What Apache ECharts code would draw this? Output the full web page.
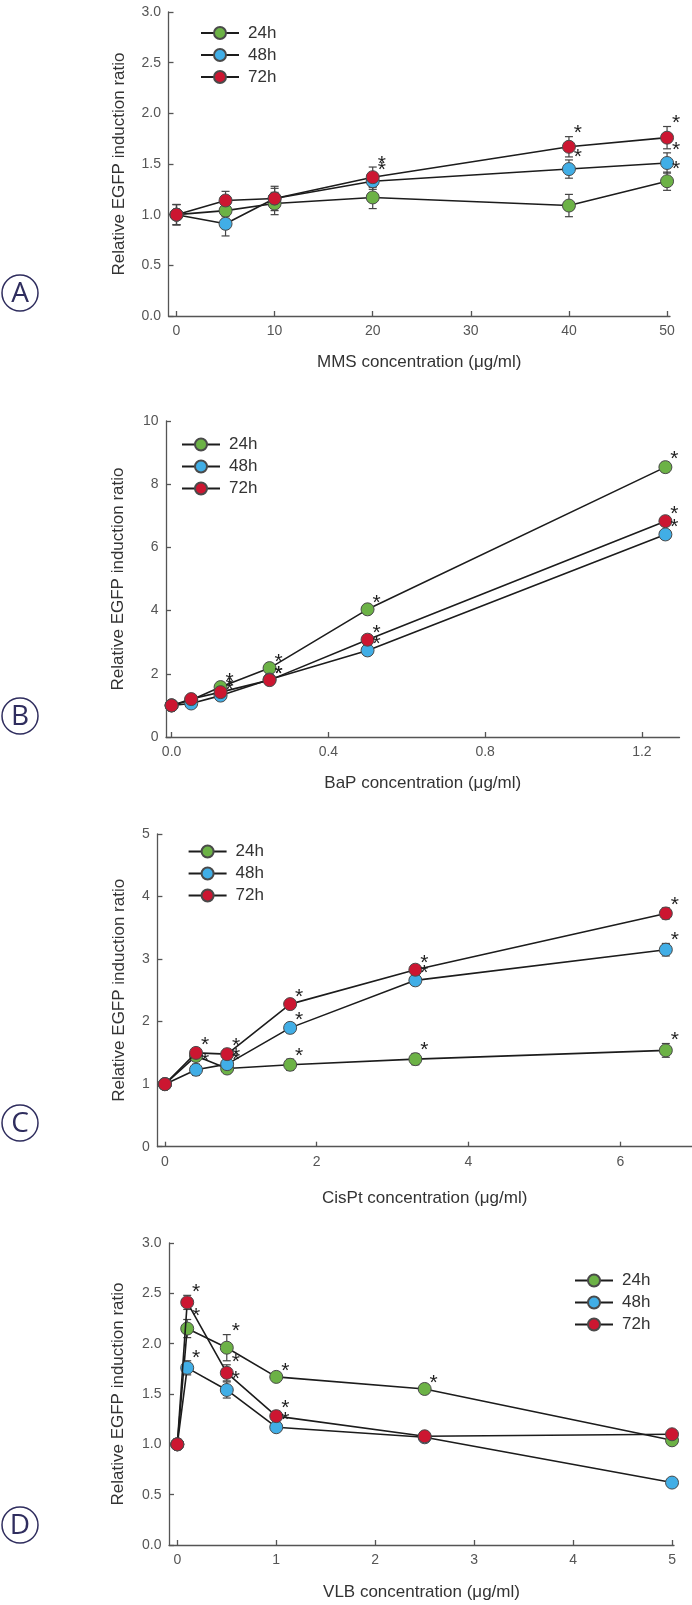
<!DOCTYPE html>
<html>
<head>
<meta charset="utf-8">
<script src="https://cdn.jsdelivr.net/npm/echarts@6/dist/echarts.min.js"></script>
<style>
  html, body { margin: 0; padding: 0; background: #fff; }
  #chart { width: 692px; height: 1605px; }
</style>
</head>
<body>
<div id="chart"></div>
<script>
// series names / colours
var timeNames = ['24h', '48h', '72h'];
var timeColors = ['#6cb246', '#41aee6', '#cc1631'];

// A - MMS
var xA = [0, 5, 10, 20, 40, 50];
var a24 = [1.00, 1.04, 1.11, 1.17, 1.09, 1.33];
var a48 = [1.00, 0.91, 1.16, 1.33, 1.45, 1.51];
var a72 = [1.00, 1.14, 1.16, 1.37, 1.67, 1.76];
var a24Err = [0.10, 0.06, 0.11, 0.11, 0.11, 0.09];
var a48Err = [0.10, 0.12, 0.10, 0.08, 0.09, 0.10];
var a72Err = [0.10, 0.09, 0.12, 0.10, 0.10, 0.11];
var a24Star = [0, 0, 0, 0, 0, 1];
var a48Star = [0, 0, 0, 1, 1, 1];
var a72Star = [0, 0, 0, 1, 1, 1];
var ticksA = [0, 10, 20, 30, 40, 50];

// B - BaP
var xB = [0, 0.05, 0.125, 0.25, 0.5, 1.26];
var b24 = [1.00, 1.17, 1.58, 2.18, 4.04, 8.54];
var b48 = [1.00, 1.06, 1.31, 1.82, 2.74, 6.41];
var b72 = [1.00, 1.20, 1.42, 1.80, 3.08, 6.83];
var b24Err = [0.08, 0.08, 0.10, 0.10, 0.10, 0.15];
var b48Err = [0.08, 0.08, 0.08, 0.08, 0.10, 0.12];
var b72Err = [0.08, 0.08, 0.08, 0.08, 0.10, 0.12];
var b24Star = [0, 0, 1, 1, 1, 1];
var b48Star = [0, 0, 1, 1, 1, 1];
var b72Star = [0, 0, 1, 1, 1, 1];
var ticksB = [0, 0.4, 0.8, 1.2];

// C - CisPt
var xC = [0, 0.41, 0.82, 1.65, 3.3, 6.6];
var c24 = [1.00, 1.45, 1.25, 1.31, 1.40, 1.54];
var c48 = [1.00, 1.23, 1.32, 1.90, 2.66, 3.15];
var c72 = [1.00, 1.50, 1.48, 2.28, 2.83, 3.73];
var c24Err = [0.08, 0.08, 0.08, 0.09, 0.09, 0.11];
var c48Err = [0.08, 0.09, 0.08, 0.08, 0.06, 0.10];
var c72Err = [0.08, 0.07, 0.08, 0.07, 0.06, 0.09];
var c24Star = [0, 0, 1, 1, 1, 1];
var c48Star = [0, 1, 1, 1, 1, 1];
var c72Star = [0, 1, 1, 1, 1, 1];
var ticksC = [0, 2, 4, 6];

// D - VLB
var xD = [0, 0.1, 0.5, 1, 2.5, 5];
var d24 = [1.00, 2.15, 1.96, 1.67, 1.55, 1.04];
var d48 = [1.00, 1.76, 1.54, 1.17, 1.07, 0.62];
var d72 = [1.00, 2.41, 1.71, 1.28, 1.08, 1.10];
var d24Err = [0.05, 0.09, 0.13, 0.03, 0.03, 0.04];
var d48Err = [0.05, 0.07, 0.08, 0.04, 0.03, 0.04];
var d72Err = [0.05, 0.07, 0.08, 0.05, 0.04, 0.04];
var d24Star = [0, 1, 1, 1, 1, 0];
var d48Star = [0, 1, 1, 1, 0, 0];
var d72Star = [0, 1, 1, 1, 0, 0];
var ticksD = [0, 1, 2, 3, 4, 5];

var xTitles = ['MMS concentration (\u03bcg/ml)', 'BaP concentration (\u03bcg/ml)',
  'CisPt concentration (\u03bcg/ml)', 'VLB concentration (\u03bcg/ml)'];
var yTitle = 'Relative EGFP induction ratio';
var panelLetters = ['A', 'B', 'C', 'D'];

var FONT = '"Liberation Sans", Arial, sans-serif';
var AXIS_COLOR = '#555';

var panels = [
  { xs: xA, vals: [a24, a48, a72], errs: [a24Err, a48Err, a72Err], stars: [a24Star, a48Star, a72Star], ticks: ticksA,
    grid: { left: 168.5, top: 12, width: 501.5, height: 304 }, xMin: -0.815, xMax: 50.3, yMax: 3, yInt: 0.5, yDec: 1, xDec: 0,
    nameGapX: 38, nameGapY: 41, legend: { left: 200, top: 24.5 }, circleY: 293 },
  { xs: xB, vals: [b24, b48, b72], errs: [b24Err, b48Err, b72Err], stars: [b24Star, b48Star, b72Star], ticks: ticksB,
    grid: { left: 166, top: 421, width: 513.5, height: 316 }, xMin: -0.0143, xMax: 1.296, yMax: 10, yInt: 2, yDec: 0, xDec: 1,
    nameGapX: 38, nameGapY: 39, legend: { left: 181, top: 436 }, circleY: 716 },
  { xs: xC, vals: [c24, c48, c72], errs: [c24Err, c48Err, c72Err], stars: [c24Star, c48Star, c72Star], ticks: ticksC,
    grid: { left: 157.4, top: 834, width: 534.6, height: 312.7 }, xMin: -0.099, xMax: 6.945, yMax: 5, yInt: 1, yDec: 0, xDec: 0,
    nameGapX: 43, nameGapY: 30, legend: { left: 187.6, top: 843 }, circleY: 1123 },
  { xs: xD, vals: [d24, d48, d72], errs: [d24Err, d48Err, d72Err], stars: [d24Star, d48Star, d72Star], ticks: ticksD,
    grid: { left: 169, top: 1243, width: 505, height: 302 }, xMin: -0.084, xMax: 5.02, yMax: 3, yInt: 0.5, yDec: 1, xDec: 0,
    nameGapX: 39, nameGapY: 42, legend: { left: 574, top: 1272 }, circleY: 1525 }
];

// 误差线
function errRender(params, api) {
  var x = api.value(0), y = api.value(1), e = api.value(2);
  var top = api.coord([x, y + e]);
  var bot = api.coord([x, y - e]);
  var w = 4;
  var st = { stroke: '#444', lineWidth: 1.2 };
  return {
    type: 'group',
    children: [
      { type: 'line', shape: { x1: top[0], y1: top[1], x2: bot[0], y2: bot[1] }, style: st },
      { type: 'line', shape: { x1: top[0] - w, y1: top[1], x2: top[0] + w, y2: top[1] }, style: st },
      { type: 'line', shape: { x1: bot[0] - w, y1: bot[1], x2: bot[0] + w, y2: bot[1] }, style: st }
    ]
  };
}

var grids = [], xAxes = [], yAxes = [], series = [], legends = [], graphics = [];

panels.forEach(function (p, k) {
  grids.push(Object.assign({ outerBoundsMode: 'none', containLabel: false }, p.grid));

  xAxes.push({
    gridIndex: k, type: 'value', min: p.xMin, max: p.xMax,
    name: xTitles[k], nameLocation: 'middle', nameGap: p.nameGapX,
    nameTextStyle: { fontFamily: FONT, fontSize: 17, color: '#333' },
    axisLine: { lineStyle: { color: AXIS_COLOR, width: 1.3 } },
    axisTick: { inside: true, length: 5, customValues: p.ticks, lineStyle: { color: AXIS_COLOR, width: 1.3 } },
    axisLabel: { customValues: p.ticks, margin: 8, fontFamily: FONT, fontSize: 14, color: '#555',
      formatter: (function (d) { return function (v) { return v.toFixed(d); }; })(p.xDec) },
    splitLine: { show: false }
  });

  yAxes.push({
    gridIndex: k, type: 'value', min: 0, max: p.yMax, interval: p.yInt,
    name: yTitle, nameLocation: 'middle', nameGap: p.nameGapY,
    nameTextStyle: { fontFamily: FONT, fontSize: 17, color: '#333' },
    axisLine: { show: true, onZero: false, lineStyle: { color: AXIS_COLOR, width: 1.3 } },
    axisTick: { show: true, inside: true, length: 5, lineStyle: { color: AXIS_COLOR, width: 1.3 } },
    axisLabel: { margin: 7.5, fontFamily: FONT, fontSize: 14, color: '#555',
      formatter: (function (d) { return function (v) { return v.toFixed(d); }; })(p.yDec) },
    splitLine: { show: false }
  });

  for (var s = 0; s < 3; s++) {
    var pts = [], errPts = [], starPts = [];
    for (var i = 0; i < p.xs.length; i++) {
      pts.push([p.xs[i], p.vals[s][i]]);
      errPts.push([p.xs[i], p.vals[s][i], p.errs[s][i]]);
      if (p.stars[s][i]) starPts.push([p.xs[i], p.vals[s][i] + p.errs[s][i]]);
    }
    series.push({
      type: 'custom', name: 'err' + k + s, xAxisIndex: k, yAxisIndex: k, z: 2,
      renderItem: errRender, encode: { x: 0, y: 1 }, data: errPts, silent: true
    });
    series.push({
      type: 'line', name: timeNames[s], xAxisIndex: k, yAxisIndex: k, z: 3 + s,
      data: pts, symbol: 'circle', symbolSize: 13, showSymbol: true,
      itemStyle: { color: timeColors[s], borderColor: '#4a4a4a', borderWidth: 1 },
      lineStyle: { color: '#1c1c1c', width: 1.6 },
      emphasis: { disabled: true }
    });
    series.push({
      type: 'scatter', name: 'star' + k + s, xAxisIndex: k, yAxisIndex: k, z: 8,
      data: starPts, symbolSize: 2, itemStyle: { color: 'rgba(0,0,0,0)' }, silent: true,
      label: { show: true, formatter: '*', position: 'inside', offset: [9, -3],
        fontFamily: FONT, fontSize: 21, color: '#1e1e1e', opacity: 1 }
    });
  }

  legends.push({
    orient: 'vertical', left: p.legend.left, top: p.legend.top, padding: 0,
    itemWidth: 38, itemHeight: 15, itemGap: 5, selectedMode: false,
    data: timeNames,
    textStyle: { fontFamily: FONT, fontSize: 17, color: '#333', padding: [0, 0, 0, 4] }
  });

  graphics.push({
    type: 'circle', shape: { cx: 20, cy: p.circleY, r: 18 },
    style: { fill: '#fff', stroke: '#2f2d5e', lineWidth: 1.5 }
  });
  graphics.push({
    type: 'text', x: 20, y: p.circleY + 1,
    style: { text: panelLetters[k], x: 0, y: 0, align: 'center', verticalAlign: 'middle',
      font: '28px "Open Sans", sans-serif', fill: '#2f2d5e' }
  });
});

var myChart = echarts.init(document.getElementById('chart'), null, { renderer: 'canvas' });
myChart.setOption({
  animation: false,
  backgroundColor: '#fff',
  grid: grids,
  xAxis: xAxes,
  yAxis: yAxes,
  legend: legends,
  series: series,
  graphic: graphics
});
</script>
</body>
</html>
